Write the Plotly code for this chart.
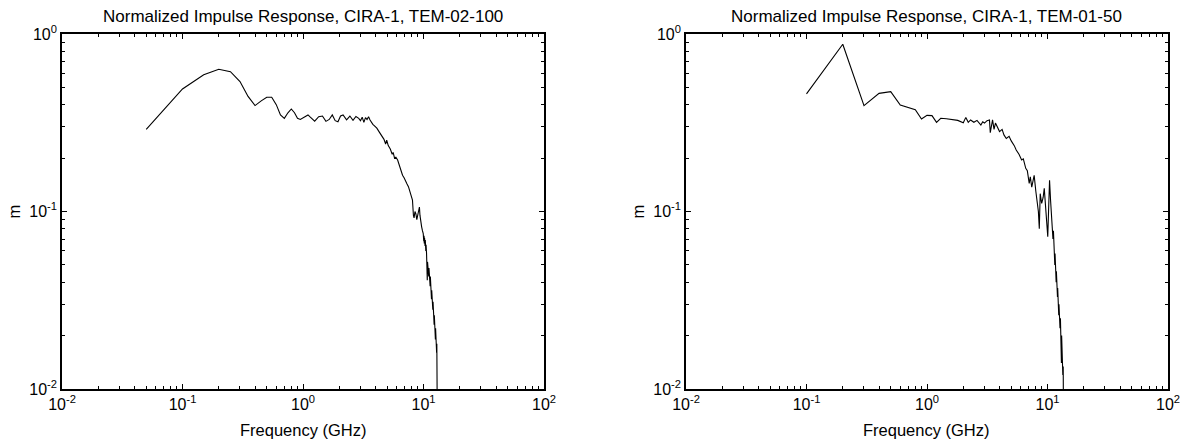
import plotly.graph_objects as go

W, H = 1186, 444

# TEM-02-100 normalized impulse response (frequency in GHz, magnitude m)
freq_tem02 = [
    0.05, 0.10, 0.15, 0.20, 0.25, 0.30, 0.35, 0.40, 0.45,
    0.50, 0.55, 0.60, 0.65, 0.70, 0.75, 0.80, 0.85, 0.90, 0.95,
    1.05, 1.10, 1.15, 1.25, 1.35, 1.45, 1.55, 1.65, 1.75, 1.85, 1.95,
    2.05, 2.15, 2.3, 2.45, 2.6, 2.75, 2.9,
    3.0, 3.1, 3.2, 3.3, 3.4, 3.5, 3.6, 3.7, 3.8, 3.9,
    4.1, 4.3, 4.5, 4.7, 4.85, 4.95,
    5.1, 5.3, 5.5, 5.6, 5.75, 5.9,
    6.1, 6.3, 6.5, 6.7, 6.9,
    7.1, 7.3, 7.5, 7.7, 7.9,
    8.1, 8.25, 8.35, 8.5, 8.65, 8.8, 8.95,
    9.1, 9.25, 9.35, 9.5, 9.65, 9.8, 9.95,
    10.05, 10.1, 10.15, 10.2, 10.3, 10.35, 10.45, 10.5, 10.6, 10.65,
    10.7, 10.75, 10.8, 10.9, 10.95, 11.05, 11.1, 11.2, 11.25, 11.35,
    11.4, 11.5, 11.55, 11.65, 11.7, 11.8, 11.85, 11.95, 12.0, 12.1,
    12.15, 12.25, 12.3, 12.4, 12.45, 12.55, 12.6, 12.7, 12.75, 12.85,
    12.9, 12.95, 13.0, 13.05,
]
resp_tem02 = [
    0.29, 0.49, 0.59, 0.633, 0.613, 0.54, 0.445, 0.395, 0.42,
    0.44, 0.44, 0.40, 0.35, 0.335, 0.36, 0.378, 0.36, 0.335, 0.33,
    0.345, 0.35, 0.34, 0.323, 0.342, 0.345, 0.322, 0.33, 0.35, 0.325, 0.32,
    0.345, 0.35, 0.328, 0.345, 0.326, 0.343, 0.335,
    0.325, 0.34, 0.318, 0.338, 0.33, 0.342, 0.328, 0.315, 0.31, 0.305,
    0.295, 0.28, 0.265, 0.255, 0.24, 0.252,
    0.235, 0.225, 0.21, 0.215, 0.2, 0.202,
    0.195, 0.18, 0.172, 0.16, 0.155,
    0.15, 0.143, 0.138, 0.13, 0.122,
    0.116, 0.095, 0.092, 0.1, 0.097, 0.09, 0.094,
    0.1, 0.106, 0.095, 0.086, 0.082, 0.078, 0.075,
    0.068, 0.073, 0.066, 0.071, 0.064, 0.069, 0.06, 0.065, 0.058, 0.044,
    0.056, 0.041, 0.052, 0.046, 0.051, 0.043, 0.048, 0.041, 0.046, 0.038,
    0.043, 0.035, 0.039, 0.032, 0.036, 0.03, 0.034, 0.028, 0.031, 0.026,
    0.029, 0.023, 0.026, 0.021, 0.024, 0.019, 0.022, 0.017, 0.02, 0.016,
    0.018, 0.012, 0.014, 0.005,
]

# TEM-01-50 normalized impulse response
freq_tem01 = [
    0.1, 0.2, 0.3, 0.4, 0.5, 0.6, 0.8, 0.9, 1.0, 1.1,
    1.2, 1.3, 1.45, 1.6, 1.8, 2.0, 2.1, 2.2, 2.3, 2.45,
    2.6, 2.8, 2.9, 3.0, 3.15, 3.3, 3.35, 3.5, 3.6, 3.7,
    3.85, 4.0, 4.2, 4.35, 4.55, 4.8, 5.0, 5.1, 5.3, 5.5,
    5.8, 6.1, 6.3, 6.6, 6.8, 7.05, 7.2, 7.4, 7.6, 7.75,
    8.0, 8.2, 8.4, 8.55, 8.7, 8.95, 9.2, 9.4, 9.6,
    9.85, 10.05, 10.2, 10.4, 10.6, 10.8,
    11.0, 11.1, 11.2, 11.3, 11.4, 11.5, 11.55, 11.65, 11.7, 11.8,
    11.85, 11.95, 12.0, 12.1, 12.15, 12.25, 12.3, 12.4, 12.45, 12.55,
    12.6, 12.7, 12.8, 12.9, 12.95, 13.05, 13.1, 13.2, 13.3, 13.4,
    13.5, 13.6,
]
resp_tem01 = [
    0.46, 0.875, 0.395, 0.463, 0.473, 0.398, 0.375, 0.332, 0.348, 0.347,
    0.318, 0.335, 0.333, 0.331, 0.326, 0.316, 0.339, 0.318, 0.328, 0.318,
    0.326, 0.307, 0.32, 0.315, 0.325, 0.328, 0.278, 0.328, 0.29, 0.315,
    0.30, 0.282, 0.29, 0.27, 0.258, 0.265, 0.25, 0.245, 0.235, 0.222,
    0.21, 0.195, 0.198, 0.175, 0.17, 0.144, 0.157, 0.137, 0.15, 0.16,
    0.13, 0.116, 0.1, 0.08, 0.126, 0.111, 0.12, 0.135, 0.111,
    0.093, 0.072, 0.10, 0.15, 0.116, 0.095,
    0.086, 0.07, 0.078, 0.06, 0.066, 0.05, 0.058, 0.047, 0.052, 0.04,
    0.046, 0.036, 0.041, 0.033, 0.037, 0.029, 0.033, 0.026, 0.03, 0.024,
    0.028, 0.022, 0.025, 0.017, 0.023, 0.014, 0.02, 0.013, 0.016, 0.012,
    0.0134, 0.005,
]

assert len(freq_tem02) == len(resp_tem02)
assert len(freq_tem01) == len(resp_tem01)

panel_titles = [
    "Normalized Impulse Response, CIRA-1, TEM-02-100",
    "Normalized Impulse Response, CIRA-1, TEM-01-50",
]
x_label = "Frequency (GHz)"
y_label = "m"

x_tick_vals = [0.01, 0.1, 1, 10, 100]
x_tick_text = ["10<sup>-2</sup>", "10<sup>-1</sup>", "10<sup>0</sup>",
               "10<sup>1</sup>", "10<sup>2</sup>"]
y_tick_vals = [0.01, 0.1, 1]
y_tick_text = ["10<sup>-2</sup>", "10<sup>-1</sup>", "10<sup>0</sup>"]

FONT = "Liberation Sans, Arial, Helvetica, sans-serif"


def minor_ticks(lo_exp, hi_exp):
    return [m * 10.0 ** e for e in range(lo_exp, hi_exp) for m in range(2, 10)]


# plot-area placement in pixels
left_px = [(62, 544), (686, 1168)]
top_px, bottom_px = 34, 389
y_dom = [1 - bottom_px / H, 1 - top_px / H]

fig = go.Figure()
series = [(freq_tem02, resp_tem02), (freq_tem01, resp_tem01)]
for i, (f, r) in enumerate(series):
    sfx = "" if i == 0 else str(i + 1)
    fig.add_trace(go.Scatter(
        x=f, y=r, mode="lines",
        line=dict(color="black", width=1.1),
        xaxis="x" + sfx, yaxis="y" + sfx,
        hoverinfo="skip",
    ))

axis_common = dict(
    type="log", showgrid=False, zeroline=False,
    showline=True, linecolor="black", linewidth=1.6, mirror="ticks",
    ticks="inside", ticklen=5, tickwidth=1, tickcolor="black",
    tickfont=dict(family=FONT, size=16, color="black"),
    automargin=False,
)

layout = dict(
    width=W, height=H,
    margin=dict(l=0, r=0, t=0, b=0),
    paper_bgcolor="white", plot_bgcolor="white",
    showlegend=False,
    font=dict(family=FONT, color="black"),
)

annotations = []
for i, (x0, x1) in enumerate(left_px):
    sfx = "" if i == 0 else str(i + 1)
    layout["xaxis" + sfx] = dict(
        axis_common,
        domain=[x0 / W, x1 / W],
        range=[-2, 2],
        anchor="y" + sfx,
        tickmode="array", tickvals=x_tick_vals, ticktext=x_tick_text,
        minor=dict(ticks="inside", ticklen=3, tickcolor="black",
                   tickmode="array", tickvals=minor_ticks(-2, 2)),
    )
    layout["yaxis" + sfx] = dict(
        axis_common,
        domain=y_dom,
        range=[-2, 0],
        anchor="x" + sfx,
        tickmode="array", tickvals=y_tick_vals, ticktext=y_tick_text,
        minor=dict(ticks="inside", ticklen=3, tickcolor="black",
                   tickmode="array", tickvals=minor_ticks(-2, 0)),
    )
    cx = (x0 + x1) / 2 / W
    annotations.append(dict(
        text=panel_titles[i], x=cx, y=1 - 17 / H, xref="paper", yref="paper",
        xanchor="center", yanchor="middle", showarrow=False,
        font=dict(family=FONT, size=17, color="black"),
    ))
    annotations.append(dict(
        text=x_label, x=cx, y=1 - 430 / H, xref="paper", yref="paper",
        xanchor="center", yanchor="middle", showarrow=False,
        font=dict(family=FONT, size=16.5, color="black"),
    ))
    annotations.append(dict(
        text=y_label, x=(x0 - 48) / W, y=(y_dom[0] + y_dom[1]) / 2,
        xref="paper", yref="paper", textangle=-90,
        xanchor="center", yanchor="middle", showarrow=False,
        font=dict(family=FONT, size=16.5, color="black"),
    ))

layout["annotations"] = annotations
fig.update_layout(**layout)

fig.write_html("out.html")
